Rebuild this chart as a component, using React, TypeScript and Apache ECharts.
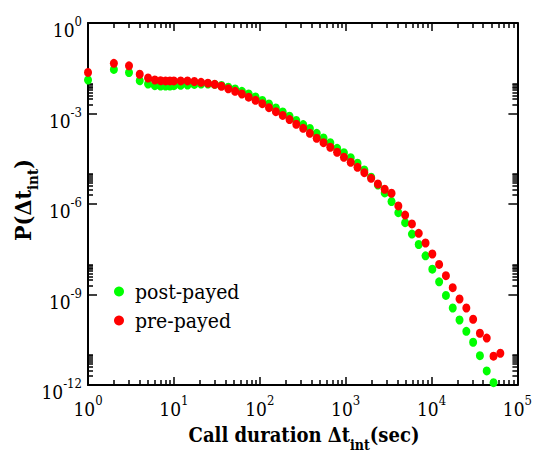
import React, { useEffect, useRef } from 'react';
import * as echarts from 'echarts';

const SERIF = 'DejaVu Serif Condensed, DejaVu Serif';

// call duration bins (sec)
const durations = [
  1, 2, 3, 4, 5, 6, 7, 8, 9, 10,
  12, 14.4, 17.3, 20.7, 24.9, 29.9, 35.8, 43.0, 51.6, 61.9,
  74.3, 89.2, 107, 128, 154, 185, 222, 266, 320, 383,
  460, 552, 662, 795, 954, 1145, 1374, 1649, 1979, 2374,
  2849, 3419, 4103, 4924, 5908, 7090, 8508, 10210, 12250, 14700,
  17640, 21170, 25410, 30490, 36580, 43900, 52680, 63220,
];

// P(dt) post-payed (green)
const postPayed = [
  1.29e-2, 2.88e-2, 2.29e-2, 1.22e-2, 9.5e-3, 8.35e-3, 8.16e-3, 8.16e-3, 8.16e-3, 8.35e-3,
  8.6e-3, 8.8e-3, 9.2e-3, 9.5e-3, 9.5e-3, 9.2e-3, 8.5e-3, 7.45e-3, 6.5e-3, 5.45e-3,
  4.43e-3, 3.53e-3, 2.7e-3, 2.07e-3, 1.52e-3, 1.12e-3, 8.1e-4, 5.9e-4, 4.3e-4, 3.2e-4,
  2.21e-4, 1.54e-4, 1.08e-4, 7.0e-5, 5.0e-5, 3.43e-5, 2.24e-5, 1.34e-5, 7.7e-6, 4.27e-6,
  2.32e-6, 1.21e-6, 5.15e-7, 2.4e-7, 1.01e-7, 4.55e-8, 1.92e-8, 6.9e-9, 2.64e-9, 9.3e-10,
  3.57e-10, 1.43e-10, 6.0e-11, 2.61e-11, 9.4e-12, 2.92e-12, 1.19e-12,
];

// P(dt) pre-payed (red)
const prePayed = [
  2.3e-2, 4.6e-2, 3.8e-2, 2.0e-2, 1.5e-2, 1.29e-2, 1.22e-2, 1.2e-2, 1.2e-2, 1.2e-2,
  1.2e-2, 1.2e-2, 1.15e-2, 1.08e-2, 1.01e-2, 9.3e-3, 8.0e-3, 6.6e-3, 5.45e-3, 4.43e-3,
  3.47e-3, 2.74e-3, 2.11e-3, 1.56e-3, 1.15e-3, 8.6e-4, 6.3e-4, 4.4e-4, 3.23e-4, 2.21e-4,
  1.51e-4, 1.08e-4, 7.6e-5, 5.2e-5, 3.54e-5, 2.42e-5, 1.65e-5, 1.09e-5, 7.1e-6, 4.6e-6,
  3.08e-6, 2.27e-6, 8.6e-7, 4.3e-7, 2.18e-7, 1.07e-7, 5.1e-8, 2.2e-8, 9.9e-9, 4.2e-9,
  1.68e-9, 7.1e-10, 3.57e-10, 1.51e-10, 5.2e-11, 3.6e-11, 9.0e-12, 1.13e-11,
];

const seriesNames = ['post-payed', 'pre-payed'];
const seriesColors = ['#00ff00', '#ff0000'];

// axes (exponents of 10)
const xExpRange = [0, 5];
const yExpRange = [-12, 0];
const xMinorDecades = [0, 1, 2, 3, 4];
const xMinorMult = [2, 3, 4, 5, 6, 7, 8, 9];
const yMinorDecades = [-12, -9, -6, -3];
const yMinorMult = [2, 3, 4, 5, 6, 7, 8, 9, 10];

const xMinor = xMinorDecades.flatMap((n) => xMinorMult.map((k) => n + Math.log10(k)));
const yMinor = yMinorDecades.flatMap((n) => yMinorMult.map((k) => n + Math.log10(k)));

const labelRich = {
  b: { fontSize: 19, fontFamily: SERIF, color: '#000', lineHeight: 30 },
  s: { fontSize: 13, fontFamily: SERIF, color: '#000', lineHeight: 11, verticalAlign: 'top' },
};
const powLabel = (v: number) => `{b|10}{s|${v}}`;

const lineStyle = { color: '#000', width: 2 };
const tickStyle = { color: '#000', width: 1.5 };

function xAxis(position: string, major: boolean, labels: boolean) {
  return {
    type: 'value',
    min: xExpRange[0],
    max: xExpRange[1],
    interval: 1,
    position,
    axisLine: { show: major, onZero: false, lineStyle },
    axisTick: major
      ? { show: true, inside: true, length: 8, lineStyle: tickStyle }
      : { show: true, inside: true, length: 5, lineStyle: tickStyle, customValues: xMinor },
    axisLabel: labels
      ? { show: true, margin: 9, formatter: powLabel, rich: labelRich }
      : { show: false },
    splitLine: { show: false },
  };
}

function yAxis(position: string, major: boolean, labels: boolean) {
  return {
    type: 'value',
    min: yExpRange[0],
    max: yExpRange[1],
    interval: major ? 3 : 1,
    position,
    axisLine: { show: major, onZero: false, lineStyle },
    axisTick: major
      ? { show: true, inside: true, length: 9, lineStyle: tickStyle }
      : { show: true, inside: true, length: 5, lineStyle: tickStyle, customValues: yMinor },
    axisLabel: labels
      ? { show: true, margin: 6, padding: [14, 0, 0, 0], formatter: powLabel, rich: labelRich }
      : { show: false },
    splitLine: { show: false },
  };
}

const titleRich = (main: number, sub: number, lh: number, slh: number) => ({
  m: { fontSize: main, fontWeight: 'bold', fontFamily: SERIF, fill: '#000', lineHeight: lh },
  s: { fontSize: sub, fontWeight: 'bold', fontFamily: SERIF, fill: '#000', lineHeight: slh, verticalAlign: 'bottom' },
});

export default function App() {
  const ref = useRef<HTMLDivElement>(null);
  useEffect(() => {
    const chart = echarts.init(ref.current!, null, { renderer: 'svg' });
    const option = {
      animation: false,
      backgroundColor: '#fff',
      textStyle: { fontFamily: SERIF },
      grid: { left: 88, top: 23, width: 432, height: 362 },
      xAxis: [
        xAxis('bottom', true, true),
        xAxis('top', true, false),
        xAxis('bottom', false, false),
        xAxis('top', false, false),
      ],
      yAxis: [
        yAxis('left', true, true),
        yAxis('right', true, false),
        yAxis('left', false, false),
        yAxis('right', false, false),
      ],
      legend: {
        show: true,
        orient: 'vertical',
        left: 114,
        top: 281,
        padding: 0,
        itemGap: 8,
        itemWidth: 22,
        itemHeight: 10,
        icon: 'circle',
        data: seriesNames,
        textStyle: { fontFamily: SERIF, fontSize: 21, color: '#000' },
      },
      series: [
        {
          name: seriesNames[0],
          type: 'scatter',
          symbol: 'circle',
          symbolSize: [8, 9],
          clip: false,
          itemStyle: { color: seriesColors[0], opacity: 1 },
          data: postPayed.map((p, i) => [Math.log10(durations[i]), Math.log10(p)]),
        },
        {
          name: seriesNames[1],
          type: 'scatter',
          symbol: 'circle',
          symbolSize: [8, 9],
          clip: false,
          itemStyle: { color: seriesColors[1], opacity: 1 },
          data: prePayed.map((p, i) => [Math.log10(durations[i]), Math.log10(p)]),
        },
      ],
      graphic: [
        {
          type: 'text',
          x: 304,
          y: 435,
          style: {
            text: '{m|Call duration Δt}{s|int}{m|(sec)}',
            rich: titleRich(20, 14, 34, 12),
            align: 'center',
            verticalAlign: 'middle',
            fill: '#000',
          },
        },
        {
          type: 'text',
          x: 22,
          y: 200,
          rotation: Math.PI / 2,
          style: {
            text: '{m|P(Δt}{s|int}{m|)}',
            rich: titleRich(23, 15, 36, 12),
            align: 'center',
            verticalAlign: 'middle',
            fill: '#000',
          },
        },
      ],
    };
    chart.setOption(option as any);
    return () => chart.dispose();
  }, []);
  return (
    <div
      ref={ref}
      style={{ position: 'fixed', left: 0, top: 0, width: 535, height: 456, background: '#fff' }}
    />
  );
}
